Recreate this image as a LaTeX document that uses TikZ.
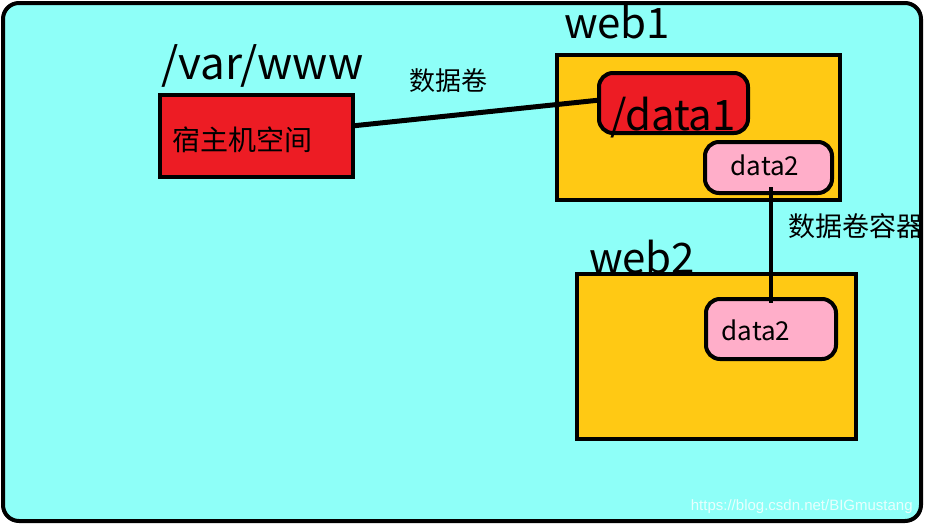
\documentclass[tikz,border=0pt]{standalone}
\usepackage{fontspec}
\setmainfont{Noto Sans CJK SC}
\newfontfamily\markfont{Liberation Sans}
\definecolor{bgcyan}{RGB}{142,255,248}
\definecolor{boxred}{RGB}{237,28,36}
\definecolor{boxgold}{RGB}{255,201,20}
\definecolor{boxpink}{RGB}{255,174,201}

\begin{document}
\begin{tikzpicture}[x=1pt, y=-1pt, line width=4pt,
    plainbox/.style={rectangle, draw, inner sep=0pt},
    volbox/.style={rectangle, draw, rounded corners=14pt, fill=boxpink, inner sep=0pt},
    bigtext/.style={inner sep=0pt, font=\fontsize{42}{42}\selectfont},
    midtext/.style={inner sep=0pt, font=\fontsize{26}{26}\selectfont}]
        \useasboundingbox (0,0) rectangle (927,525);
        % Define nodes
        \draw[fill=bgcyan, rounded corners=16pt] (3,3) rectangle (921,521);
        \node[plainbox, fill=boxred, minimum width=193pt, minimum height=82pt] (host) at (256.5,136) {};
        \node[midtext, anchor=west, font=\fontsize{28}{28}\selectfont] (hosttext) at (170,140) {宿主机空间};
        \node[bigtext, anchor=base west, font=\fontsize{44}{44}\selectfont] (varwww) at (159,79) {/var/www};
        \node[midtext] (voltext) at (448,81) {数据卷};

        \node[plainbox, fill=boxgold, minimum width=283pt, minimum height=145pt] (web1) at (698.5,127.5) {};
        \node[bigtext, anchor=base west] (web1text) at (562,38) {web1};
        \node[volbox, fill=boxred, minimum width=149pt, minimum height=60pt] (data1) at (673.5,103) {};
        \node[bigtext, anchor=base west] (data1text) at (608,130) {/data1};
        \node[volbox, minimum width=127pt, minimum height=51pt] (data2a) at (768.5,167.5) {};
        \node[midtext] (data2atext) at (765,165) {data2};

        \node[plainbox, fill=boxgold, minimum width=279pt, minimum height=165pt] (web2) at (716.5,356.5) {};
        \node[bigtext, anchor=base west] (web2text) at (587,273) {web2};
        \node[volbox, minimum width=130pt, minimum height=60pt] (data2b) at (771,329) {};
        \node[midtext] (data2btext) at (756,330) {data2};
        \node[midtext, anchor=west, font=\fontsize{27}{27}\selectfont] (conttext) at (786,226) {数据卷容器};

        \node[anchor=east, text=white, opacity=0.8, font=\markfont\fontsize{15}{15}\selectfont] (mark) at (918,507) {https://blog.csdn.net/BIGmustang};

        % Draw edges
        \draw[line width=5pt] (host.6) -- (data1.178);
        \draw[line width=4.5pt, shorten <=-8pt, shorten >=-6pt] (data2a.south -| data2b.north) -- (data2b.north);
    \end{tikzpicture}
\end{document}
